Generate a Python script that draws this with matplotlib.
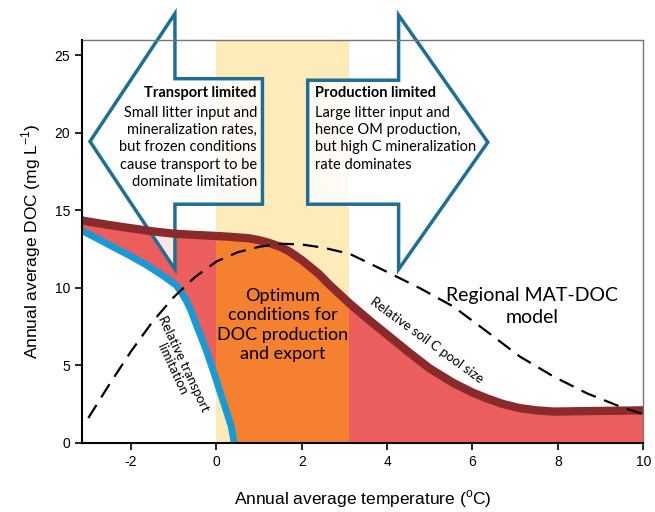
import numpy as np
import matplotlib
matplotlib.use('Agg')
import matplotlib.pyplot as plt
from matplotlib.patches import Polygon, Rectangle

plt.rcParams['font.family'] = 'Liberation Sans'
plt.rcParams['mathtext.fontset'] = 'custom'
plt.rcParams['mathtext.rm'] = 'Liberation Sans'
plt.rcParams['axes.unicode_minus'] = False

NOTE_FONT = 'Lato'

# relative soil C pool size (brown line, top of the red area)
soil_x = [-3.15, -2.5, -2, -1.5, -1, -0.5, 0, 0.31, 0.77, 1.0, 1.24, 1.5,
          1.71, 2.0, 2.18, 2.4, 2.65, 3.12, 3.59, 4.06, 4.53, 5.0, 5.55,
          6.0, 6.33, 6.7, 7.11, 7.5, 7.9, 8.68, 10]
soil_y = [14.35, 14.05, 13.85, 13.65, 13.5, 13.42, 13.35, 13.3, 13.2, 13.08,
          12.9, 12.65, 12.35, 11.8, 11.4, 10.9, 10.2, 9.0, 7.9, 6.85, 5.8,
          4.8, 3.87, 3.25, 2.88, 2.52, 2.24, 2.1, 2.02, 2.05, 2.1]

# relative transport limitation (blue line)
trans_x = [-3.15, -2.8, -2.43, -2.04, -1.65, -1.26, -0.95, -0.83, -0.71,
           -0.6, -0.48, -0.36, -0.24, -0.12, 0, 0.11, 0.23, 0.35, 0.42]
trans_y = [13.7, 13.2, 12.66, 12.1, 11.5, 10.8, 10.2, 9.76, 9.2, 8.58, 7.7,
           6.86, 6.0, 5.03, 4.05, 3.1, 2.1, 1.05, 0]

# regional MAT-DOC model (dashed)
model_x = [-3, -2.5, -2, -1.5, -1, -0.5, 0, 0.5, 1, 1.5, 2, 2.5, 3.12, 3.5,
           4.06, 4.77, 5.55, 6.33, 7.11, 7.9, 8.68, 9.46, 10]
model_y = [1.6, 3.8, 5.9, 7.8, 9.4, 10.7, 11.7, 12.3, 12.65, 12.85, 12.8,
           12.6, 12.2, 11.7, 10.95, 9.98, 8.8, 7.2, 5.57, 4.28, 3.2, 2.34,
           1.85]

band_lo, band_hi = 0, 3.1

RED = '#EC5D5D'
ORANGE = '#F5802F'
YELLOW = '#FEEBBA'
BROWN = '#8A2A2A'
BLUE = '#1A9AD4'
ARROW_EDGE = '#1F6E95'

fig = plt.figure(figsize=(6.55, 5.12), dpi=100)
ax = fig.add_axes([0.125, 0.135, 0.857, 0.787])
ax.set_xlim(-3.15, 10)
ax.set_ylim(0, 26)

ax.axvspan(band_lo, band_hi, color=YELLOW, zorder=0, lw=0)

# area between the transport line and the soil C line
verts = list(zip(soil_x, soil_y)) + [(soil_x[-1], 0), (trans_x[-1], 0)]
verts += list(zip(trans_x[::-1], trans_y[::-1]))
ax.add_patch(Polygon(verts, closed=True, fc=RED, ec='none', zorder=1))
orange = Polygon(verts, closed=True, fc=ORANGE, ec='none', zorder=1.1)
ax.add_patch(orange)
clip = Rectangle((band_lo, 0), band_hi - band_lo, 26, transform=ax.transData)
orange.set_clip_path(clip)

# the two big arrows
left_arrow = [(-2.96, 19.45), (-0.97, 27.7), (-0.97, 23.5), (1.08, 23.5),
              (1.08, 15.4), (-0.97, 15.4), (-0.97, 11.2)]
right_arrow = [(6.36, 19.4), (4.27, 27.6), (4.27, 23.4), (2.14, 23.4),
               (2.14, 15.4), (4.27, 15.4), (4.27, 11.2)]
for arr in (left_arrow, right_arrow):
    ax.add_patch(Polygon(arr, closed=True, fc=(1, 1, 1, 0.85), ec=ARROW_EDGE,
                         lw=2.5, zorder=2, clip_on=False, joinstyle='miter'))

ax.plot(soil_x, soil_y, color=BROWN, lw=6, solid_capstyle='butt',
        solid_joinstyle='round', zorder=3)
ax.plot(trans_x, trans_y, color=BLUE, lw=5, solid_capstyle='butt',
        solid_joinstyle='round', zorder=3)
ax.plot(model_x, model_y, color='black', lw=1.6, dashes=(7, 4), zorder=3.5)

# notes
ax.text(0.95, 23.0, 'Transport limited', ha='right', va='top',
        fontsize=10.5, fontweight='bold', family=NOTE_FONT, zorder=4)
ax.text(0.95, 21.75, 'Small litter input and\nmineralization rates,\n'
        'but frozen conditions\ncause transport to be\ndominate limitation',
        ha='right', va='top', fontsize=10.5, family=NOTE_FONT,
        linespacing=1.3, zorder=4)
ax.text(2.3, 23.0, 'Production limited', ha='left', va='top',
        fontsize=10.5, fontweight='bold', family=NOTE_FONT, zorder=4)
ax.text(2.3, 21.75, 'Large litter input and\nhence OM production,\n'
        'but high C mineralization\nrate dominates',
        ha='left', va='top', fontsize=10.5, family=NOTE_FONT,
        linespacing=1.3, zorder=4)
ax.text(1.55, 7.6, 'Optimum\nconditions for\nDOC production\nand export',
        ha='center', va='center', fontsize=13, family=NOTE_FONT,
        linespacing=1.25, zorder=4)
ax.text(7.4, 8.8, 'Regional MAT-DOC\nmodel', ha='center', va='center',
        fontsize=14, family=NOTE_FONT, linespacing=1.4, zorder=4)
ax.text(4.93, 6.65, 'Relative soil C pool size', ha='center', va='center',
        rotation=-36, rotation_mode='anchor', fontsize=9.5, family=NOTE_FONT,
        zorder=4)
ax.text(-0.9, 4.95, 'Relative transport\nlimitation', ha='center',
        va='center', rotation=-65, rotation_mode='anchor', fontsize=9.5,
        family=NOTE_FONT, linespacing=1.1, zorder=4)

ax.set_xticks([-2, 0, 2, 4, 6, 8, 10])
ax.set_yticks([0, 5, 10, 15, 20, 25])
ax.tick_params(labelsize=10, length=5, width=1.2, direction='out')
for side in ('top', 'right'):
    ax.spines[side].set_color('#777777')
    ax.spines[side].set_linewidth(1)
for side in ('left', 'bottom'):
    ax.spines[side].set_linewidth(1.5)
    ax.spines[side].set_zorder(5)

ax.set_xlabel(r'Annual average temperature ($^{\mathregular{o}}$C)',
              fontsize=12.5, labelpad=14)
ax.set_ylabel(r'Annual average DOC (mg L$^{\mathregular{-1}}$)',
              fontsize=12.5, labelpad=8)

fig.savefig('out.png', dpi=100)
